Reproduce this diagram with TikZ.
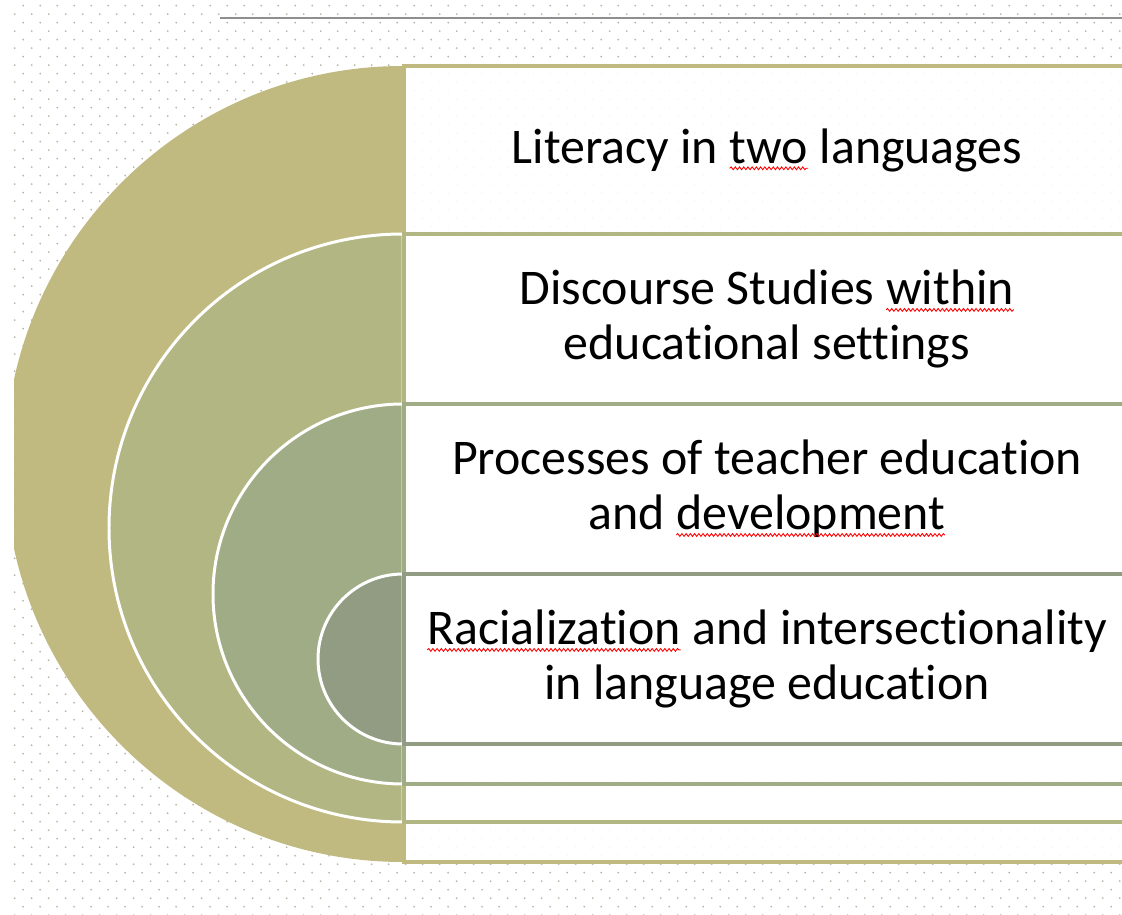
\documentclass[tikz,border=0pt]{standalone}
\usepackage{fontspec}
\setmainfont{Carlito}[Ligatures=NoCommon]
\usetikzlibrary{decorations.pathmorphing}

\definecolor{ringA}{HTML}{C0BA80}
\definecolor{ringB}{HTML}{B2B683}
\definecolor{ringC}{HTML}{A0AC85}
\definecolor{ringD}{HTML}{919C83}
\definecolor{dotgray}{HTML}{B4B8A2}
\definecolor{rulegray}{HTML}{8F8F8F}

% spell-check squiggle under a word
\newcommand\redwave[1]{\tikz[baseline=(w.base), x=1pt, y=1pt]{%
    \node[inner sep=0pt, outer sep=0pt] (w) {#1};%
    \draw[red, line width=0.5pt, decorate, decoration={snake, amplitude=0.8pt, segment length=2.4pt}]
        ([yshift=-3pt]w.base west) -- ([yshift=-3pt]w.base east);}}

\tikzset{
    band/.style={fill=white, fill opacity=0.9, line width=2.1pt},
    ring/.style={draw=white, line width=1.7pt},
    topic/.style={font=\fontsize{28.4}{31.2}\selectfont, align=center, text=black}
}

\begin{document}
\begin{tikzpicture}[x=0.02cm, y=0.02cm]
    \useasboundingbox (0, 0) rectangle (1122, 914);
    \clip (0, 0) rectangle (1122, 914);
    % dotted ground, one row at a time
    \foreach \r in {0,...,107}{
        \fill[dotgray] \foreach \c in {0,...,65}{
            ({14.7+8.5*(1-mod(\r,2))+17*\c}, {908.3-8.5*\r}) circle (1)
        };
    }
    \draw[rulegray, line width=1.4pt] (220, 896) to (1122, 896);

    \begin{scope}
        \clip (14, 0) rectangle (1122, 914);
        \fill[ringA] (403, 848) arc[start angle=90, end angle=270, radius=398] -- cycle;
    \end{scope}
        \draw[band, draw=ringA] (404, 52) rectangle (1135, 848);
    \fill[ringB, ring] (403, 680) arc[start angle=90, end angle=270, radius=294] -- cycle;
        \draw[band, draw=ringB] (404, 92) rectangle (1135, 680);
    \fill[ringC, ring] (403, 510) arc[start angle=90, end angle=270, radius=190] -- cycle;
        \draw[band, draw=ringC] (404, 130) rectangle (1135, 510);
    \fill[ringD, ring] (403, 340) arc[start angle=90, end angle=270, radius=85] -- cycle;
        \draw[band, draw=ringD] (404, 170) rectangle (1135, 340);

    \node[topic] (lit) at (767, 764) {Literacy in \redwave{two} languages};
    \node[topic] (disc) at (767, 595) {Discourse Studies \redwave{within}\\educational settings};
    \node[topic] (proc) at (767, 425) {Processes of teacher education\\and \redwave{development}};
    \node[topic] (race) at (767, 255) {\redwave{Racialization} and intersectionality\\in language education};
\end{tikzpicture}
\end{document}
